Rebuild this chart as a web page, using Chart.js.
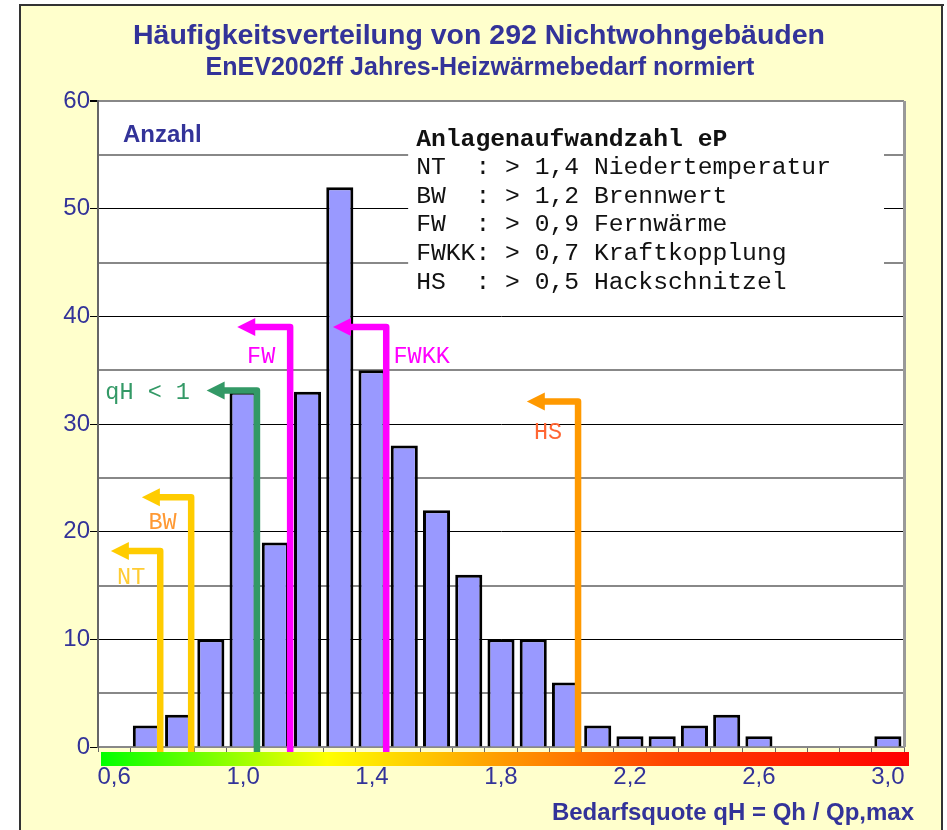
<!DOCTYPE html>
<html>
<head>
<meta charset="utf-8">
<script src="https://cdn.jsdelivr.net/npm/chart.js@4/dist/chart.umd.min.js"></script>
<style>
  body { margin: 0; background: #fff; }
  #wrap { width: 947px; height: 830px; position: relative; }
</style>
</head>
<body>
<div id="wrap"><canvas id="grafik"></canvas></div>
<script>
// Klassen der Bedarfsquote qH (Schrittweite 0,1)
const klassen = ['0,6','0,7','0,8','0,9','1,0','1,1','1,2','1,3','1,4','1,5','1,6','1,7','1,8',
  '1,9','2,0','2,1','2,2','2,3','2,4','2,5','2,6','2,7','2,8','2,9','3,0']
const anzahl = [0, 2, 3, 10, 33, 19, 33, 52, 35, 28, 22, 16, 10, 10, 6, 2, 1, 1, 2, 3, 1, 0, 0, 0, 1]
const yTicks = [0, 10, 20, 30, 40, 50, 60]

// Pfeile: Name, qH der Senkrechten, Hoehe, qH der Pfeilspitze, Beschriftung (qH, Hoehe)
const pfeilNamen = ['NT', 'BW', 'qH < 1', 'FW', 'FWKK', 'HS']
const pfeilQh = [0.743, 0.839, 1.043, 1.146, 1.444, 2.039]
const pfeilHoehe = [18.2, 23.2, 33.1, 39.0, 39.0, 32.1]
const pfeilSpitze = [0.59, 0.686, 0.887, 0.982, 1.279, 1.88]
const textQh = [0.653, 0.75, 0.704, 1.056, 1.554, 1.946]
const textHoehe = [15.7, 20.8, 32.9, 36.2, 36.2, 29.2]
const pfeilFarben = ['#FFCC00', '#FFCC00', '#339966', '#FF00FF', '#FF00FF', '#FF9900']
const textFarben = ['#FFCC33', '#FF9933', '#339966', '#FF00FF', '#FF00FF', '#FF6633']

const legendeTitel = 'Anlagenaufwandzahl eP'
const legendeZeilen = [
  'NT  : > 1,4 Niedertemperatur',
  'BW  : > 1,2 Brennwert',
  'FW  : > 0,9 Fernwärme',
  'FWKK: > 0,7 Kraftkopplung',
  'HS  : > 0,5 Hackschnitzel'
]

const blau = '#333399'
const arial = '"Liberation Sans", Arial, sans-serif'
const mono = '"Liberation Mono", "Courier New", monospace'
const qhZuIndex = qh => (qh - 0.6) / 0.1

const rahmen = {
  id: 'rahmen',
  beforeDraw(chart) {
    const c = chart.ctx, a = chart.chartArea
    c.save()
    c.fillStyle = '#FFFFCC'
    c.fillRect(21, 5, 921, 830)
    c.fillStyle = '#333'
    c.fillRect(19, 4, 925, 2)
    c.fillRect(19, 4, 2, 830)
    c.fillRect(941, 4, 2, 830)
    c.fillStyle = '#fff'
    c.fillRect(a.left, a.top, a.right - a.left, a.bottom - a.top)
    c.restore()
  },
  beforeDatasetsDraw(chart) {
    // weisses Feld der Legende ueber dem Gitter
    const c = chart.ctx, x = chart.scales.x, y = chart.scales.y
    const l = x.getPixelForValue(9.12), r = x.getPixelForValue(23.88)
    const t = y.getPixelForValue(58.3), b = y.getPixelForValue(41.8)
    c.save()
    c.fillStyle = '#fff'
    c.fillRect(l, t, r - l, b - t)
    c.fillStyle = '#111'
    c.textBaseline = 'middle'
    c.font = 'bold 24.7px ' + mono
    c.fillText(legendeTitel, l + 8, t + 20)
    c.font = '24.7px ' + mono
    legendeZeilen.forEach((z, i) => c.fillText(z, l + 8, t + 48 + i * 28.7))
    c.restore()
  },
  afterDatasetsDraw(chart) {
    const c = chart.ctx, x = chart.scales.x, y = chart.scales.y, a = chart.chartArea
    c.save()
    // rechter Rand
    c.fillStyle = '#999'
    c.fillRect(a.right - 1, a.top, 3, a.bottom - a.top)
    // Farbskala unter der Achse
    const g = c.createLinearGradient(a.left + 3, 0, a.right + 5, 0)
    g.addColorStop(0, '#00FF00')
    g.addColorStop(0.28, '#FFFF00')
    g.addColorStop(0.5, '#FF9900')
    g.addColorStop(0.7, '#FF4400')
    g.addColorStop(1, '#FF0000')
    c.fillStyle = g
    c.fillRect(a.left + 3, a.bottom + 5, a.right - a.left + 2, 14)
    // Pfeile
    c.lineWidth = 6.5
    c.lineJoin = 'round'
    pfeilNamen.forEach((n, i) => {
      const px = x.getPixelForValue(qhZuIndex(pfeilQh[i]))
      const py = y.getPixelForValue(pfeilHoehe[i])
      const tip = x.getPixelForValue(qhZuIndex(pfeilSpitze[i]))
      c.strokeStyle = pfeilFarben[i]
      c.fillStyle = pfeilFarben[i]
      c.beginPath()
      c.moveTo(px, a.bottom + 5)
      c.lineTo(px, py)
      c.lineTo(tip + 14, py)
      c.stroke()
      c.beginPath()
      c.moveTo(tip, py)
      c.lineTo(tip + 18, py - 9)
      c.lineTo(tip + 18, py + 9)
      c.closePath()
      c.fill()
      c.fillStyle = textFarben[i]
      c.font = '23.5px ' + mono
      c.textAlign = 'center'
      c.textBaseline = 'middle'
      c.fillText(n, x.getPixelForValue(qhZuIndex(textQh[i])), y.getPixelForValue(textHoehe[i]))
    })
    c.restore()
  },
  afterDraw(chart) {
    const c = chart.ctx, a = chart.chartArea
    c.save()
    c.fillStyle = blau
    c.textBaseline = 'middle'
    c.textAlign = 'center'
    c.font = 'bold 28.5px ' + arial
    c.fillText('Häufigkeitsverteilung von 292 Nichtwohngebäuden', 479, 36)
    c.font = 'bold 25px ' + arial
    c.fillText('EnEV2002ff Jahres-Heizwärmebedarf normiert', 480, 68)
    c.font = 'bold 24px ' + arial
    c.textAlign = 'left'
    c.fillText('Anzahl', a.left + 25, a.top + 34)
    c.textAlign = 'right'
    c.fillText('Bedarfsquote qH = Qh / Qp,max', 914, 813)
    c.restore()
  }
}

const ctx = document.getElementById('grafik').getContext('2d')
new Chart(ctx, {
  type: 'bar',
  data: {
    labels: klassen,
    datasets: [{
      data: anzahl,
      backgroundColor: '#9999FF',
      borderColor: '#000',
      borderWidth: 3,
      barPercentage: 0.84,
      categoryPercentage: 1
    }]
  },
  plugins: [rahmen],
  options: {
    responsive: true,
    maintainAspectRatio: false,
    animation: false,
    layout: { padding: { left: 38, top: 101, right: 43, bottom: 43 } },
    plugins: { legend: { display: false }, tooltip: { enabled: false } },
    scales: {
      x: {
        afterFit: s => { s.height = 40 },
        grid: { offset: true, drawOnChartArea: false, tickLength: 5, color: '#666' },
        border: { color: '#888', width: 2 },
        ticks: {
          autoSkip: false, maxRotation: 0, padding: 11,
          color: blau, font: { family: arial, size: 24 },
          callback: (v, i) => i % 4 === 0 ? klassen[i] : ''
        }
      },
      y: {
        min: 0, max: 60,
        afterFit: s => { s.width = 60 },
        grid: {
          tickLength: 8,
          color: c => c.tick && c.tick.value % 10 === 0 && c.tick.value !== 60 ? '#000' : '#888',
          lineWidth: c => c.tick && c.tick.value % 10 === 0 && c.tick.value !== 60 ? 1 : 2,
          tickColor: c => c.tick && yTicks.includes(c.tick.value) ? '#000' : 'rgba(0,0,0,0)'
        },
        border: { color: '#666', width: 2 },
        ticks: {
          stepSize: 5, padding: 0,
          color: blau, font: { family: arial, size: 24 },
          callback: v => yTicks.includes(v) ? v : ''
        }
      }
    }
  }
})
</script>
</body>
</html>
